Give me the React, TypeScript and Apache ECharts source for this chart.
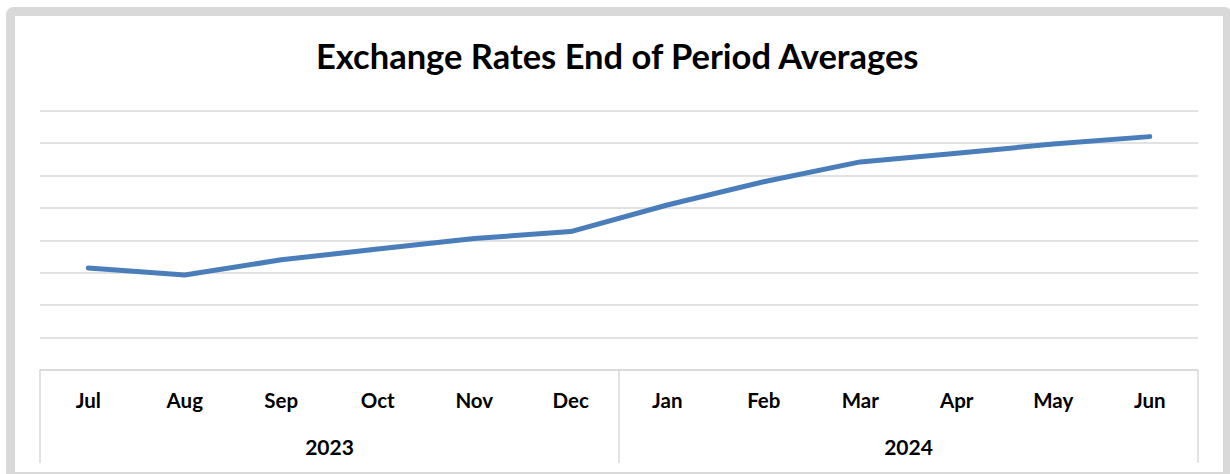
import React, { useEffect, useRef } from "react";
import * as echarts from "echarts";

const months = ["Jul", "Aug", "Sep", "Oct", "Nov", "Dec", "Jan", "Feb", "Mar", "Apr", "May", "Jun"];
const years = ["2023", "2024"];
const rates = [3.15, 2.93, 3.4, 3.73, 4.06, 4.27, 5.09, 5.81, 6.42, 6.69, 6.97, 7.2];
const title = "Exchange Rates End of Period Averages";

export default function App() {
  const ref = useRef<HTMLDivElement>(null);
  useEffect(() => {
    if (!ref.current) return;
    const chart = echarts.init(ref.current, null, { renderer: "svg" });
    const font = "Lato, 'Open Sans', sans-serif";
    chart.setOption({
      animation: false,
      backgroundColor: "#ffffff",
      title: {
        text: title,
        left: 311,
        top: 33,
        textStyle: { fontFamily: font, fontWeight: "bold", fontSize: 34.5, color: "#000" },
      },
      grid: { left: 40, right: 32, top: 110.7, bottom: 104, containLabel: false },
      xAxis: [
        {
          type: "category",
          data: months,
          boundaryGap: true,
          position: "bottom",
          axisLine: { show: true, lineStyle: { color: "#D9D9D9", width: 1.5 } },
          axisTick: { show: false },
          axisLabel: {
            interval: 0,
            margin: 19.5,
            fontFamily: font,
            fontWeight: "bold",
            fontSize: 20.5,
            color: "#000",
          },
        },
        {
          type: "category",
          data: years,
          boundaryGap: true,
          position: "bottom",
          offset: 0,
          axisLine: { show: false },
          axisTick: {
            show: true,
            inside: false,
            length: 93,
            lineStyle: { color: "#D9D9D9", width: 1.5 },
          },
          axisLabel: {
            interval: 0,
            margin: 65.5,
            fontFamily: font,
            fontWeight: "bold",
            fontSize: 21,
            color: "#000",
          },
        },
      ],
      yAxis: {
        type: "value",
        min: 0,
        max: 8,
        interval: 1,
        axisLabel: { show: false },
        axisLine: { show: false },
        axisTick: { show: false },
        splitLine: { show: true, lineStyle: { color: "#D9D9D9", width: 1.5 } },
      },
      series: [
        {
          type: "line",
          data: rates,
          xAxisIndex: 0,
          symbol: "none",
          lineStyle: { color: "#4A7EBB", width: 5, cap: "round", join: "round" },
        },
      ],
      graphic: [
        {
          type: "rect",
          shape: { x: 10.5, y: 11.5, width: 1217, height: 465, r: 3 },
          style: { fill: "none", stroke: "#D9D9D9", lineWidth: 9 },
          silent: true,
          z: 100,
        },
      ],
    });
    return () => chart.dispose();
  }, []);
  return (
    <div
      ref={ref}
      style={{ position: "absolute", left: 0, top: 0, width: 1230, height: 474, background: "#fff" }}
    />
  );
}
